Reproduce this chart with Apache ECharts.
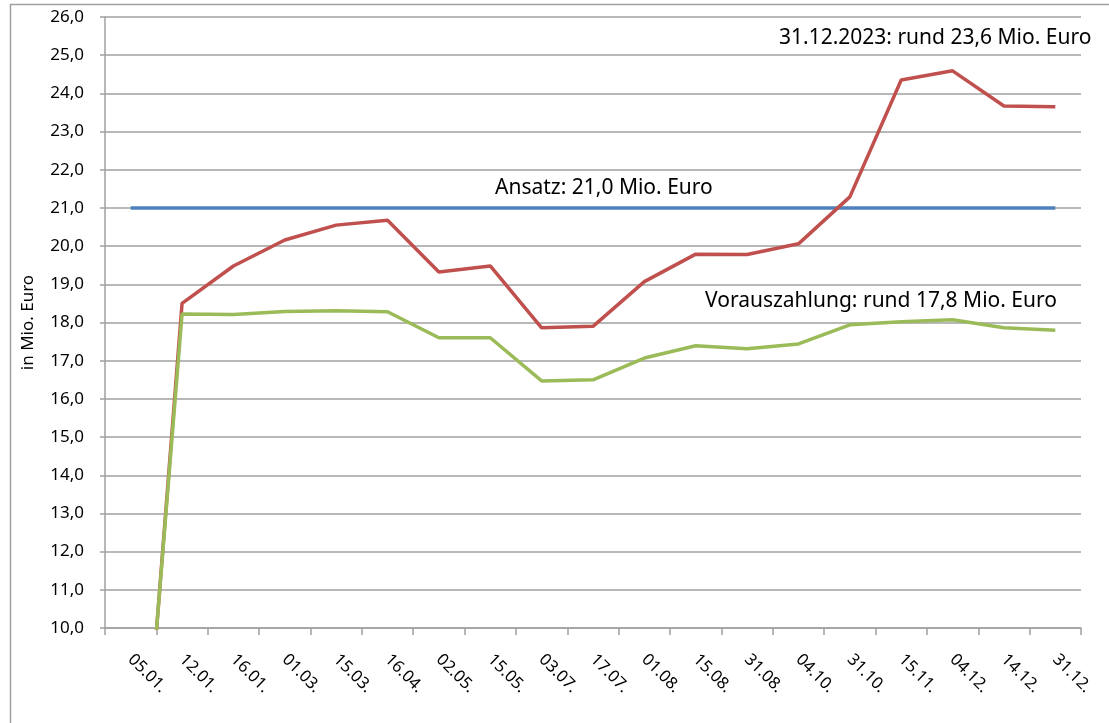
<!DOCTYPE html>
<html>
<head>
<meta charset="utf-8">
<script src="https://cdn.jsdelivr.net/npm/echarts@6/dist/echarts.min.js"></script>
<style>
  html, body { margin: 0; padding: 0; background: #fff; }
  #chart { width: 1109px; height: 723px; }
</style>
</head>
<body>
<div id="chart"></div>
<script>
// Stichtage (Kategorien)
const dates = ["05.01.", "12.01.", "16.01.", "01.03.", "15.03.", "16.04.", "02.05.", "15.05.", "03.07.", "17.07.",
  "01.08.", "15.08.", "31.08.", "04.10.", "31.10.", "15.11.", "04.12.", "14.12.", "31.12."];

// Ansatz (Planwert)
const ansatz = [21, 21, 21, 21, 21, 21, 21, 21, 21, 21, 21, 21, 21, 21, 21, 21, 21, 21, 21];

// Soll gesamt
const gesamt = [1.3, 18.5, 19.48, 20.16, 20.55, 20.68, 19.32, 19.48, 17.86, 17.9,
  19.07, 19.79, 19.78, 20.06, 21.29, 24.35, 24.59, 23.67, 23.65];

// Vorauszahlung
const vorauszahlung = [1.6, 18.22, 18.21, 18.29, 18.31, 18.28, 17.6, 17.6, 16.47, 16.5,
  17.07, 17.39, 17.31, 17.44, 17.94, 18.02, 18.07, 17.86, 17.8];

const fontFam = "'Noto Sans', 'Open Sans', sans-serif";
const gray = "#a0a0a0";

const chart = echarts.init(document.getElementById("chart"));

const option = {
  animation: false,
  grid: { left: 105, right: 28, top: 17, bottom: 95 },
  xAxis: {
    type: "category",
    data: dates,
    boundaryGap: true,
    axisLine: { lineStyle: { color: gray, width: 1.5 } },
    axisTick: { show: true, interval: 0, length: 7, lineStyle: { color: gray, width: 1.5 } },
    axisLabel: {
      interval: 0, rotate: -45, margin: 29,
      color: "#000", fontSize: 16.5, fontFamily: fontFam
    }
  },
  yAxis: {
    type: "value",
    min: 10, max: 26, interval: 1,
    name: "in Mio. Euro",
    nameLocation: "middle",
    nameGap: 68,
    nameRotate: 90,
    nameTextStyle: { color: "#000", fontSize: 17, fontFamily: fontFam },
    axisLine: { show: true, lineStyle: { color: gray, width: 1.5 } },
    axisTick: { show: true, length: 5, lineStyle: { color: gray, width: 1.5 } },
    axisLabel: {
      margin: 21, color: "#000", fontSize: 17, fontFamily: fontFam,
      formatter: v => v.toFixed(1).replace(".", ",")
    },
    splitLine: { lineStyle: { color: gray, width: 1.5 } }
  },
  series: [
    {
      name: "Ansatz", type: "line", data: ansatz, symbol: "none",
      lineStyle: { color: "#4f81bd", width: 3.5 }
    },
    {
      name: "Gesamt", type: "line", data: gesamt, symbol: "none",
      lineStyle: { color: "#c0504d", width: 3.5 }
    },
    {
      name: "Vorauszahlung", type: "line", data: vorauszahlung, symbol: "none",
      lineStyle: { color: "#9bbb59", width: 3.5 }
    }
  ],
  graphic: [
    {
      type: "rect", silent: true, z: -1,
      shape: { x: 10.5, y: 4.5, width: 1120, height: 740 },
      style: { fill: "none", stroke: gray, lineWidth: 1.5 }
    },
    {
      type: "text", left: 779, top: 28,
      style: { text: "31.12.2023: rund 23,6 Mio. Euro", fill: "#000", font: "21px " + fontFam }
    },
    {
      type: "text", left: 495, top: 178,
      style: { text: "Ansatz: 21,0 Mio. Euro", fill: "#000", font: "21px " + fontFam }
    },
    {
      type: "text", left: 705, top: 291,
      style: { text: "Vorauszahlung: rund 17,8 Mio. Euro", fill: "#000", font: "21px " + fontFam }
    }
  ]
};

chart.setOption(option);
</script>
</body>
</html>
